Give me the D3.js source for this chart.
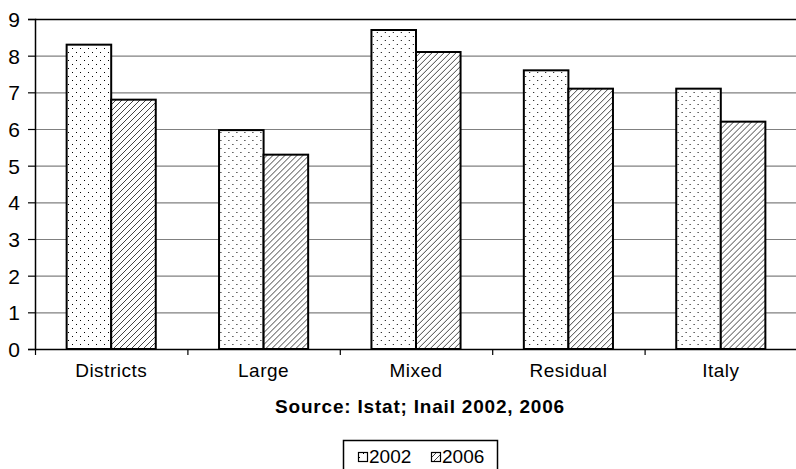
<!DOCTYPE html>
<html>
<head>
<meta charset="utf-8">
<script src="https://cdn.jsdelivr.net/npm/d3@7"></script>
<style>
  body { margin: 0; background: #fff; }
  svg { display: block; }
  text { font-family: "Liberation Sans", Arial, sans-serif; fill: #000; }
</style>
</head>
<body>
<svg id="chart" width="796" height="469"></svg>
<script>
const categories = ["Districts", "Large", "Mixed", "Residual", "Italy"];
const seriesNames = ["2002", "2006"];
const values2002 = [8.3, 5.97, 8.7, 7.6, 7.1];
const values2006 = [6.8, 5.3, 8.1, 7.1, 6.2];
const yTicks = [0, 1, 2, 3, 4, 5, 6, 7, 8, 9];

const margin = { top: 19, left: 35 };
const width = 797 - margin.left;
const height = 349 - margin.top;

const svg = d3.select("#chart");
const defs = svg.append("defs");

const dots = defs.append("pattern")
    .attr("id", "dots")
    .attr("patternUnits", "userSpaceOnUse")
    .attr("width", 8).attr("height", 8);
dots.append("rect").attr("width", 8).attr("height", 8).attr("fill", "#fff");
dots.append("rect").attr("x", 1).attr("y", 1).attr("width", 1).attr("height", 1).attr("fill", "#000");
dots.append("rect").attr("x", 5).attr("y", 5).attr("width", 1).attr("height", 1).attr("fill", "#000");

const hatch = defs.append("pattern")
    .attr("id", "hatch")
    .attr("patternUnits", "userSpaceOnUse")
    .attr("width", 6).attr("height", 6);
hatch.append("rect").attr("width", 6).attr("height", 6).attr("fill", "#fff");
hatch.append("path")
    .attr("d", "M-1,7 L7,-1 M-1,1 L1,-1 M5,7 L7,5")
    .attr("stroke", "#444")
    .attr("stroke-width", 1);

const fills = { "2002": "url(#dots)", "2006": "url(#hatch)" };

const g = svg.append("g")
    .attr("transform", `translate(${margin.left},${margin.top})`);

const x = d3.scaleBand()
    .domain(categories)
    .range([0, width]);

const x1 = d3.scaleBand()
    .domain(seriesNames)
    .range([0, x.bandwidth()])
    .paddingInner(0)
    .paddingOuter(0.71);

const y = d3.scaleLinear()
    .domain([0, 9])
    .range([height, 0]);

// gridlines
g.selectAll(".grid")
    .data(yTicks.filter(d => d > 0))
    .enter().append("line")
    .attr("x1", 0).attr("x2", width)
    .attr("y1", d => y(d) + 0.5).attr("y2", d => y(d) + 0.5)
    .attr("stroke", d => d === 9 ? "#000" : "#808080")
    .attr("stroke-width", d => d === 9 ? 1.5 : 1.2);

// y axis
const yAxis = g.append("g")
    .call(d3.axisLeft(y).tickValues(yTicks).tickSize(7).tickPadding(8).tickFormat(d3.format("d")));
yAxis.attr("font-family", null);
yAxis.select(".domain").attr("stroke", "#000").attr("stroke-width", 1.5);
yAxis.selectAll(".tick line").attr("stroke", "#000").attr("stroke-width", 1.2);
yAxis.selectAll("text").style("font-size", "21px").attr("dy", "0.36em");

// bars
const data = categories.map((c, i) => ({ cat: c, vals: [
    { s: "2002", v: values2002[i] },
    { s: "2006", v: values2006[i] }
] }));

g.selectAll(".cat")
    .data(data)
    .enter().append("g")
    .attr("transform", d => `translate(${x(d.cat)},0)`)
    .selectAll("rect")
    .data(d => d.vals)
    .enter().append("rect")
    .attr("x", d => x1(d.s))
    .attr("y", d => y(d.v))
    .attr("width", x1.bandwidth())
    .attr("height", d => height - y(d.v))
    .attr("fill", d => fills[d.s])
    .attr("stroke", "#000")
    .attr("stroke-width", 2);

// x axis
const xAxis = g.append("g")
    .attr("transform", `translate(0,${height})`)
    .call(d3.axisBottom(x).tickSize(0));
xAxis.attr("font-family", null);
xAxis.select(".domain").attr("stroke", "#000").attr("stroke-width", 1.5);
xAxis.selectAll("text")
    .attr("y", 28).attr("dy", null)
    .style("font-size", "19px")
    .style("letter-spacing", "0.5px");

g.append("g")
    .selectAll("line")
    .data(categories.map(c => x(c)))
    .enter().append("line")
    .attr("x1", d => d + 0.5).attr("x2", d => d + 0.5)
    .attr("y1", height).attr("y2", height + 6)
    .attr("stroke", "#000").attr("stroke-width", 1.2);

// source title
svg.append("text")
    .attr("x", 420).attr("y", 413)
    .attr("text-anchor", "middle")
    .style("font-size", "19px")
    .style("font-weight", "bold")
    .style("letter-spacing", "0.8px")
    .text("Source: Istat; Inail 2002, 2006");

// legend
const legend = svg.append("g").attr("transform", "translate(343,440)");
legend.append("rect")
    .attr("x", 0.5).attr("y", 0.5)
    .attr("width", 154).attr("height", 40)
    .attr("fill", "#fff").attr("stroke", "#000").attr("stroke-width", 1.5);

const legendX = d3.scaleOrdinal().domain(seriesNames).range([15, 88]);
const items = legend.selectAll(".item")
    .data(seriesNames)
    .enter().append("g")
    .attr("transform", d => `translate(${legendX(d)},0)`);
items.append("rect")
    .attr("x", 0.5).attr("y", 12.5)
    .attr("width", 9).attr("height", 9)
    .attr("fill", d => fills[d])
    .attr("stroke", "#000").attr("stroke-width", 1.2);
items.append("text")
    .attr("x", 11).attr("y", 23)
    .style("font-size", "19px")
    .text(d => d);
</script>
</body>
</html>
